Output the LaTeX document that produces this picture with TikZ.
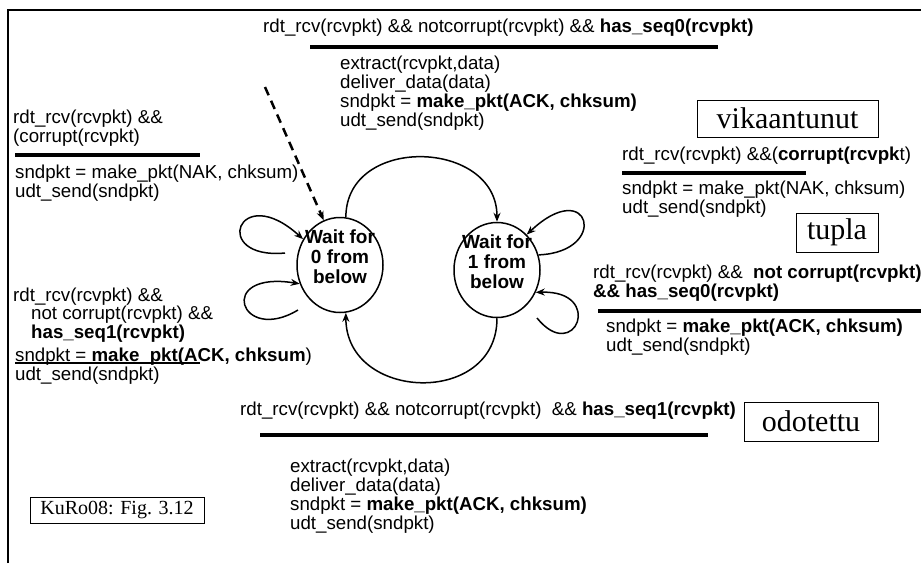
\documentclass[tikz,border=0pt]{standalone}
\usepackage{fontspec}
\setmainfont{Liberation Serif}
\setsansfont{Liberation Sans}
\usetikzlibrary{shapes.geometric,arrows.meta}

\begin{document}
\begin{tikzpicture}[x=1pt,y=-1pt]

\tikzstyle{cond}=[anchor=west, inner sep=0pt, align=left, font=\sffamily\fontsize{18.7}{18.8}\selectfont]
\tikzstyle{tag}=[draw, rectangle, inner sep=0pt, line width=1pt, font=\rmfamily\fontsize{30}{31}\selectfont]
\tikzstyle{waitstate}=[ellipse, draw, line width=1.5pt, minimum width=86pt, minimum height=95pt, inner sep=0pt]
\tikzstyle{statetext}=[align=center, inner sep=0pt, font=\sffamily\bfseries\fontsize{19}{20}\selectfont]
\tikzstyle{guardbar}=[line width=4pt]
\tikzstyle{edge1}=[-{Stealth[length=9pt, width=7pt]}, line width=1.5pt]
\tikzstyle{edge2}=[edge1, line width=2.5pt, dash pattern=on 9pt off 6pt]

\useasboundingbox (0,0) rectangle (921,563);
\draw[line width=1.5pt] (8,563) -- (8,10) -- (921,10);

% states
\node[waitstate] (wait0) at (340,265) {};
\node[waitstate] (wait1) at (497,270) {};
\node[statetext, yshift=8pt] (wait0txt) at (wait0) {Wait for\\0 from\\below};
\node[statetext, yshift=8pt] (wait1txt) at (wait1) {Wait for\\1 from\\below};

% transition texts
\node[cond] (topguard) at (263,28) {rdt\_rcv(rcvpkt) \&\& notcorrupt(rcvpkt) \&\& \textbf{has\_seq0(rcvpkt)}};
\node[cond] (topact) at (340,93) {extract(rcvpkt,data)\\deliver\_data(data)\\sndpkt = \textbf{make\_pkt(ACK, chksum)}\\udt\_send(sndpkt)};

\node[cond] (leftguard) at (13,128) {rdt\_rcv(rcvpkt) \&\&\\(corrupt(rcvpkt)};
\node[cond] (leftact) at (15,183) {sndpkt = make\_pkt(NAK, chksum)\\udt\_send(sndpkt)};

\node[cond] (rightguard) at (622,156) {rdt\_rcv(rcvpkt) \&\&(\textbf{corrupt(rcvpk}t)};
\node[cond] (rightact) at (622,199) {sndpkt = make\_pkt(NAK, chksum)\\udt\_send(sndpkt)};

\node[cond] (rightguard2) at (593,283) {rdt\_rcv(rcvpkt) \&\&\ \ \textbf{not corrupt(rcvpkt)}\\\textbf{\&\& has\_seq0(rcvpkt)}};
\node[cond] (rightact2) at (606,337) {sndpkt = \textbf{make\_pkt(ACK, chksum)}\\udt\_send(sndpkt)};

\node[cond] (leftguard2) at (13,315) {rdt\_rcv(rcvpkt) \&\&\\\hspace{18pt}not corrupt(rcvpkt) \&\&\\\hspace{18pt}\textbf{has\_seq1(rcvpkt)}};
\node[cond] (leftact2) at (15,366) {sndpkt = \textbf{make\_pkt(ACK, chksum})\\udt\_send(sndpkt)};

\node[cond] (botguard) at (240,411) {rdt\_rcv(rcvpkt) \&\& notcorrupt(rcvpkt)\ \ \&\& \textbf{has\_seq1(rcvpkt)}};
\node[cond] (botact) at (290,496) {extract(rcvpkt,data)\\deliver\_data(data)\\sndpkt = \textbf{make\_pkt(ACK, chksum)}\\udt\_send(sndpkt)};

\draw[guardbar] (310,47) -- (718,47);
\draw[guardbar] (15,155) -- (200,155);
\draw[guardbar] (622,173) -- (806,173);
\draw[guardbar] (598,311) -- (921,311);
\draw[guardbar] (260,435) -- (708,435);
\draw[line width=2pt] (15,363) -- (200,363);

% boxes
\node[tag, minimum width=181pt, minimum height=37pt] (vika) at (787.5,118.5) {vikaantunut};
\node[tag, minimum width=82pt, minimum height=39pt] (tupla) at (837,232.5) {tupla};
\node[tag, minimum width=134pt, minimum height=39pt] (odot) at (811,421.5) {odotettu};
\node[tag, minimum width=174pt, minimum height=26pt, font=\rmfamily\fontsize{20}{21}\selectfont] (kuro) at (117,510) {KuRo08: Fig. 3.12};

% loose ends
\coordinate (start) at (265,87);
\coordinate (loop0a) at (285,253);
\coordinate (loop0b) at (298,310);
\coordinate (loop1b) at (537,318);

\draw[edge2] (start) -- (wait0.110);
\draw[edge1] (wait0.83) to[out=90, in=90, looseness=1.4] (wait1.north);
\draw[edge1] (wait1.south) to[out=-90, in=-90, looseness=1.5] (wait0.-83);
\draw[edge1] (loop0a) .. controls (210,260) and (238,180) .. (wait0.145);
\draw[edge1] (loop0b) .. controls (240,345) and (215,270) .. (wait0.-155);
\draw[edge1] (wait1.20) .. controls (610,252) and (590,175) .. (wait1.50);
\draw[edge1] (loop1b) .. controls (575,365) and (605,290) .. (wait1.-30);

\end{tikzpicture}
\end{document}
